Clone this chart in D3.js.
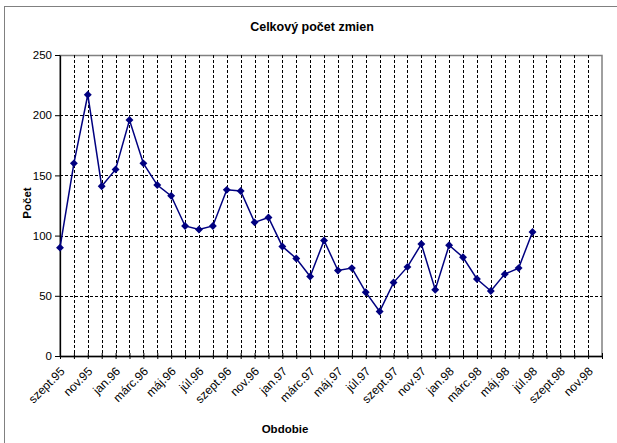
<!DOCTYPE html>
<html>
<head>
<meta charset="utf-8">
<script src="https://cdn.jsdelivr.net/npm/d3@7"></script>
<style>
  body { margin: 0; background: #fff; }
  text { font-family: "Liberation Sans", Arial, sans-serif; }
</style>
</head>
<body>
<div id="chart"></div>
<script>
var months = ["szept.95", "okt.95", "nov.95", "dec.95",
    "jan.96", "febr.96", "márc.96", "apr.96", "máj.96", "jún.96", "júl.96", "aug.96", "szept.96", "okt.96", "nov.96", "dec.96",
    "jan.97", "febr.97", "márc.97", "apr.97", "máj.97", "jún.97", "júl.97", "aug.97", "szept.97", "okt.97", "nov.97", "dec.97",
    "jan.98", "febr.98", "márc.98", "apr.98", "máj.98", "jún.98", "júl.98", "aug.98", "szept.98", "okt.98", "nov.98", "dec.98"];

var counts = [90, 160, 217, 141, 155, 196, 160, 142, 133, 108, 105, 108, 138, 137, 111, 115,
    91, 81, 66, 96, 71, 73, 53, 37, 61, 74, 93, 55, 92, 82, 64, 54, 68, 73, 103];

var yTicks = [0, 50, 100, 150, 200, 250];

var width = 617, height = 443,
    plotLeft = 60, plotRight = 602, plotTop = 55, plotBottom = 356;

var svg = d3.select("#chart").append("svg")
    .attr("width", width)
    .attr("height", height);

// outer chart frame (runs off the right and bottom edges)
svg.append("rect")
    .attr("x", 4.5).attr("y", 6.5)
    .attr("width", 640).attr("height", 460)
    .attr("fill", "none")
    .attr("stroke", "#808080");

var x = d3.scalePoint().domain(months).range([plotLeft, plotRight]);
var y = d3.scaleLinear().domain([0, 250]).range([plotBottom, plotTop]);

// plot area frame
svg.append("rect")
    .attr("x", plotLeft).attr("y", plotTop + 0.5)
    .attr("width", plotRight - plotLeft).attr("height", plotBottom - plotTop)
    .attr("fill", "none")
    .attr("stroke", "#808080")
    .attr("stroke-width", 1.5);

// gridlines
svg.append("g").selectAll("line")
    .data(months.slice(1, months.length - 1))
    .enter().append("line")
    .attr("x1", function (d) { return Math.round(x(d)) + 0.5; })
    .attr("x2", function (d) { return Math.round(x(d)) + 0.5; })
    .attr("y1", plotTop).attr("y2", plotBottom)
    .attr("stroke", "#000")
    .attr("stroke-dasharray", "3,2");

svg.append("g").selectAll("line")
    .data(yTicks.slice(1, yTicks.length - 1))
    .enter().append("line")
    .attr("x1", plotLeft).attr("x2", plotRight)
    .attr("y1", function (d) { return Math.round(y(d)) + 0.5; })
    .attr("y2", function (d) { return Math.round(y(d)) + 0.5; })
    .attr("stroke", "#000")
    .attr("stroke-dasharray", "3,2");

// y axis
var yAxis = svg.append("g")
    .attr("transform", "translate(" + plotLeft + ",0)")
    .call(d3.axisLeft(y).tickValues(yTicks).tickSize(5).tickSizeOuter(0).tickPadding(3));
yAxis.select(".domain").attr("stroke", "#000").attr("stroke-width", 1.3);
yAxis.selectAll("text").attr("font-size", 11.5).attr("fill", "#000")
    .attr("font-family", "Liberation Sans, Arial, sans-serif");

// x axis
var xAxis = svg.append("g")
    .attr("transform", "translate(0," + plotBottom + ")")
    .call(d3.axisBottom(x).tickSize(3).tickSizeOuter(0)
        .tickFormat(function (d, i) { return i % 2 === 0 ? d : ""; }));
xAxis.select(".domain").attr("stroke", "#000").attr("stroke-width", 1.3);
xAxis.selectAll(".tick line").attr("y1", -3);
xAxis.selectAll("text")
    .attr("font-size", 12)
    .attr("fill", "#000")
    .attr("font-family", "Liberation Sans, Arial, sans-serif")
    .attr("text-anchor", "end")
    .attr("dy", 0)
    .attr("y", 0)
    .attr("transform", "translate(5,16) rotate(-45)");

// line and markers
var line = d3.line()
    .x(function (d, i) { return x(months[i]); })
    .y(function (d) { return y(d); });

svg.append("path")
    .datum(counts)
    .attr("d", line)
    .attr("fill", "none")
    .attr("stroke", "#000080")
    .attr("stroke-width", 1.5);

svg.append("g").selectAll("path")
    .data(counts)
    .enter().append("path")
    .attr("d", d3.symbol().type(d3.symbolDiamond2).size(40))
    .attr("transform", function (d, i) {
        return "translate(" + x(months[i]) + "," + y(d) + ")";
    })
    .attr("fill", "#000080");

// titles
svg.append("text")
    .attr("x", 312).attr("y", 31)
    .attr("text-anchor", "middle")
    .attr("font-size", 12.5).attr("font-weight", "bold")
    .text("Celkový počet zmien");

svg.append("text")
    .attr("transform", "translate(31,203) rotate(-90)")
    .attr("text-anchor", "middle")
    .attr("font-size", 11.5).attr("font-weight", "bold")
    .text("Počet");

svg.append("text")
    .attr("x", 285).attr("y", 433)
    .attr("text-anchor", "middle")
    .attr("font-size", 11.5).attr("font-weight", "bold")
    .text("Obdobie");
</script>
</body>
</html>
